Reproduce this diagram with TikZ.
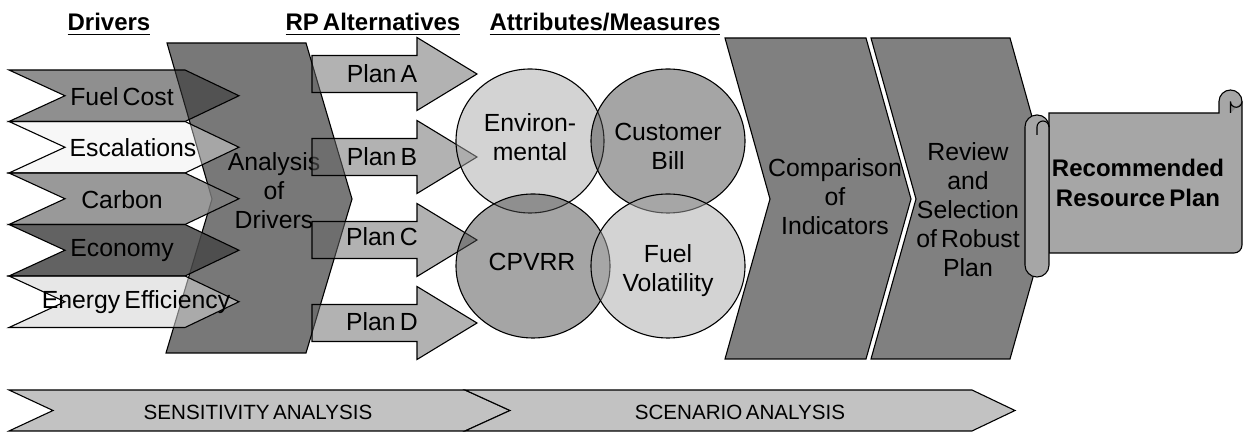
\documentclass[tikz,border=0pt]{standalone}
\usepackage{fontspec}
\setmainfont{Liberation Sans}[WordSpace=0.6]
\definecolor{drvgray}{gray}{0.47}
\definecolor{stepgray}{gray}{0.5}
\definecolor{fuelcol}{gray}{0.2}
\definecolor{escalcol}{gray}{0.92}
\definecolor{carboncol}{gray}{0.5}
\definecolor{econcol}{gray}{0.28}
\definecolor{efficcol}{gray}{0.83}
\definecolor{plancol}{gray}{0.4}
\definecolor{lightcirc}{gray}{0.66}
\definecolor{darkcirc}{gray}{0.3}
\definecolor{scrollcol}{gray}{0.65}
\definecolor{curlcol}{gray}{0.55}
\definecolor{bandcol}{gray}{0.76}

\begin{document}
\begin{tikzpicture}[x=0.5pt,y=-0.5pt,
    box/.style={draw=black,line width=0.55pt},
    txt/.style={font=\fontsize{12.4}{14.5}\selectfont,align=center,inner sep=0pt,text opacity=1},
    hdr/.style={font=\fontsize{12}{14}\selectfont\bfseries,inner sep=0pt,anchor=base},
    band/.style={font=\fontsize{10.3}{12}\selectfont,inner sep=0pt}]
\useasboundingbox (0,0) rectangle (1244,432);

% headers
\node[hdr] (drvhdr) at (109,31) {\underline{Drivers}};
\node[hdr] (planhdr) at (373,31) {\underline{RP Alternatives}};
\node[hdr] (attrhdr) at (605,31) {\underline{Attributes/Measures}};

% analysis of drivers
\filldraw[box,fill=drvgray] (167,43) -- (306,43) -- (352,199) -- (306,353) -- (166,353) -- (212,199) -- cycle;

% drivers
\filldraw[box,fill=fuelcol,fill opacity=0.55] (9,70) -- (185,70) -- (239,95.75) -- (185,121.5) -- (9,121.5) -- (65,95.75) -- cycle;
\filldraw[box,fill=escalcol,fill opacity=0.4] (9,121.5) -- (185,121.5) -- (239,147.25) -- (185,173) -- (9,173) -- (65,147.25) -- cycle;
\filldraw[box,fill=carboncol,fill opacity=0.8] (9,173) -- (185,173) -- (239,198.75) -- (185,224.5) -- (9,224.5) -- (65,198.75) -- cycle;
\filldraw[box,fill=econcol,fill opacity=0.85] (9,224.5) -- (185,224.5) -- (239,250.25) -- (185,276) -- (9,276) -- (65,250.25) -- cycle;
\filldraw[box,fill=efficcol,fill opacity=0.55] (9,276) -- (185,276) -- (239,301.75) -- (185,327.5) -- (9,327.5) -- (65,301.75) -- cycle;
\node[txt] (fuel) at (122,97) {Fuel Cost};
\node[txt] (escal) at (133,148) {Escalations};
\node[txt] (carbon) at (122,200) {Carbon};
\node[txt] (econ) at (122,251) {Economy};
\node[txt] (effic) at (136,302) {Energy Efficiency};
\node[txt] (analysis) at (274,191) {Analysis\\of\\Drivers};

% plans
\filldraw[box,fill=plancol,fill opacity=0.5] (312,55.5) -- (417,55.5) -- (417,37.5) -- (477,74) -- (417,110.5) -- (417,92.5) -- (312,92.5) -- cycle;
\filldraw[box,fill=plancol,fill opacity=0.5] (312,138.5) -- (417,138.5) -- (417,120.5) -- (477,157) -- (417,193.5) -- (417,175.5) -- (312,175.5) -- cycle;
\filldraw[box,fill=plancol,fill opacity=0.5] (312,221.5) -- (417,221.5) -- (417,203.5) -- (477,240) -- (417,276.5) -- (417,258.5) -- (312,258.5) -- cycle;
\filldraw[box,fill=plancol,fill opacity=0.5] (312,304.5) -- (417,304.5) -- (417,286.5) -- (477,323) -- (417,359.5) -- (417,341.5) -- (312,341.5) -- cycle;
\node[txt] (plana) at (382,74) {Plan A};
\node[txt] (planb) at (382,157) {Plan B};
\node[txt] (planc) at (382,237) {Plan C};
\node[txt] (pland) at (382,322) {Plan D};

% attributes
\filldraw[box,fill=lightcirc,fill opacity=0.5] (530,141) ellipse [x radius=74, y radius=72];
\filldraw[box,fill=darkcirc,fill opacity=0.5] (668,141) ellipse [x radius=77, y radius=72];
\filldraw[box,fill=darkcirc,fill opacity=0.5] (533,266) ellipse [x radius=77, y radius=72];
\filldraw[box,fill=lightcirc,fill opacity=0.5] (668,266) ellipse [x radius=77, y radius=72];
\node[txt] (envir) at (530,137) {Environ-\\mental};
\node[txt] (custbill) at (668,146) {Customer\\Bill};
\node[txt] (cpvrr) at (532,262) {CPVRR};
\node[txt] (fuelvol) at (668,271) {Fuel\\Volatility};

% comparison, review
\filldraw[box,fill=stepgray] (725,38) -- (866,38) -- (911,199) -- (866,359) -- (725,359) -- (770,199) -- cycle;
\filldraw[box,fill=stepgray] (871,38) -- (1010,38) -- (1055,199) -- (1010,359) -- (871,359) -- (916,199) -- cycle;
\node[txt] (compare) at (835,197) {Comparison\\of\\Indicators};
\node[txt] (review) at (968,210) {Review\\and\\Selection\\of Robust\\Plan};

% scroll
\filldraw[box,fill=scrollcol] (1049,113) -- (1219,113) -- (1219,101.5) arc[start angle=180,end angle=360,radius=11.5]
    -- (1242,245) arc[start angle=0,end angle=90,radius=8] -- (1049,253) -- cycle;
\filldraw[box,fill=curlcol] (1230.5,113) -- (1230.5,101.5) arc[start angle=180,end angle=0,radius=5.75];
\filldraw[box,fill=scrollcol,rounded corners=5.9pt] (1025,115) rectangle (1049,277);
\draw[box] (1037,135) -- (1037,127) arc[start angle=180,end angle=360,radius=6];
\node[txt,font=\fontsize{12}{15}\selectfont\bfseries] (recplan) at (1138,183) {Recommended\\Resource Plan};

% analysis band
\filldraw[box,fill=bandcol] (9,390) -- (465,390) -- (510,410.5) -- (465,431) -- (9,431) -- (53,410.5) -- cycle;
\filldraw[box,fill=bandcol] (465,390) -- (972,390) -- (1015,410.5) -- (972,431) -- (465,431) -- (510,410.5) -- cycle;
\node[band] (sens) at (258,412) {SENSITIVITY ANALYSIS};
\node[band] (scen) at (740,412) {SCENARIO ANALYSIS};
\end{tikzpicture}
\end{document}
